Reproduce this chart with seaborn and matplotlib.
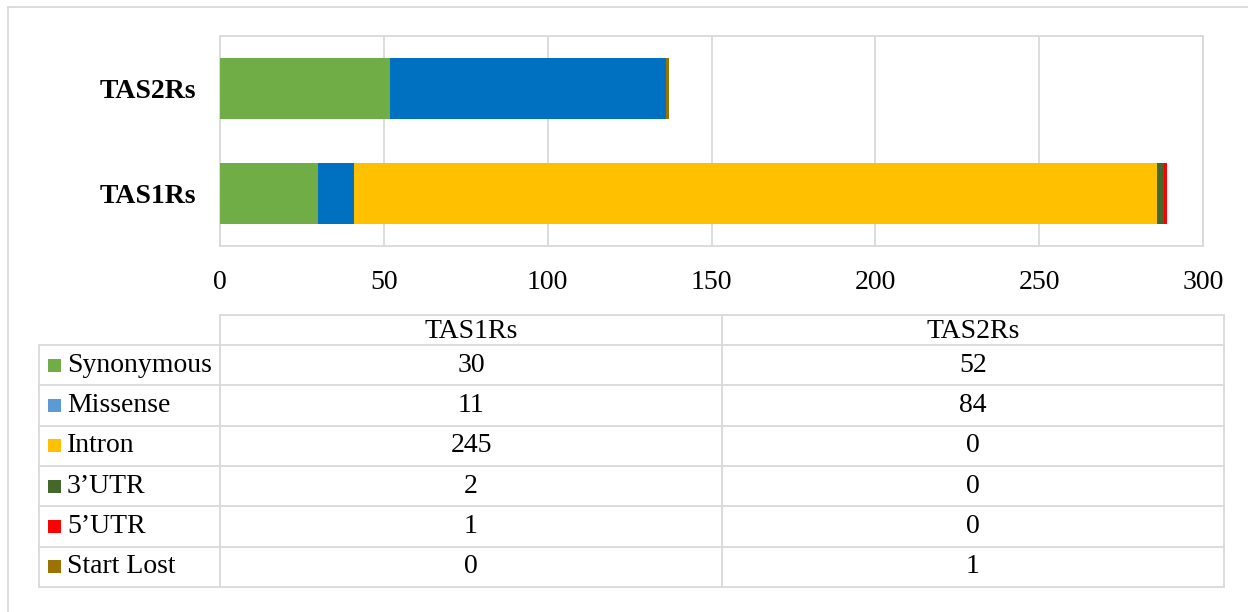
import numpy as np
import pandas as pd
import matplotlib
matplotlib.use('Agg')
import matplotlib.pyplot as plt
import seaborn as sns

# dados
genes = ['TAS2Rs', 'TAS1Rs']
table_cols = ['TAS1Rs', 'TAS2Rs']
tipos = ['Synonymous', 'Missense', 'Intron', '3\u2019UTR', '5\u2019UTR', 'Start Lost']
tas1rs = [30, 11, 245, 2, 1, 0]
tas2rs = [52, 84, 0, 0, 0, 1]
cores_barra = ['#70AD47', '#0070C0', '#FFC000', '#43682B', '#FF0000', '#9C7200']
cores_legenda = ['#70AD47', '#5B9BD5', '#FFC000', '#43682B', '#FF0000', '#9C7200']

df = pd.DataFrame({'TAS1Rs': tas1rs, 'TAS2Rs': tas2rs}, index=tipos)
acum = df.cumsum()

sns.set_style('white')
plt.rcParams['font.family'] = ['Liberation Serif', 'DejaVu Serif']
plt.rcParams['text.color'] = 'black'
plt.rcParams['xtick.color'] = 'black'
plt.rcParams['ytick.color'] = 'black'
cinza = '#D9D9D9'
fs = 20

fig = plt.figure(figsize=(12.48, 6.12), dpi=100)
W, H = 1248, 612
ax = fig.add_axes([220 / W, 1 - 246 / H, (1203 - 220) / W, 210 / H])

# barras empilhadas: desenha do total para o primeiro
for i in range(len(tipos) - 1, -1, -1):
    tipo = tipos[i]
    sns.barplot(x=[acum.loc[tipo, g] for g in genes], y=genes, order=genes,
                orient='h', color=cores_barra[i], width=0.59, ax=ax,
                saturation=1, linewidth=0, zorder=3)

ax.set_xlim(0, 300)
ax.set_ylim(1.5, -0.5)
ax.set_xticks(range(0, 301, 50))
ax.grid(axis='x', color=cinza, linewidth=1.3, zorder=0)
ax.set_axisbelow(True)
for s in ax.spines.values():
    s.set_color(cinza)
    s.set_linewidth(1.3)
ax.tick_params(axis='x', labelsize=fs, pad=17, length=0)
ax.tick_params(axis='y', labelsize=fs, pad=17, length=0)
for lb in ax.get_yticklabels():
    lb.set_fontweight('bold')
ax.set_xlabel('')
ax.set_ylabel('')

# tabela de dados
tab = fig.add_axes([0, 0, 1, 1], zorder=-1)
tab.set_xlim(0, W)
tab.set_ylim(H, 0)
tab.axis('off')

# moldura externa
tab.plot([8, 8], [7, H + 5], color=cinza, lw=1.3)
tab.plot([8, W + 5], [7, 7], color=cinza, lw=1.3)

x0, x1, x2, x3 = 39, 220, 722, 1224
y_head = 315
y_rows = 345
rh = (587 - 345) / len(tipos)
lw = 1.3

# cabeçalho
tab.plot([x1, x3], [y_head, y_head], color=cinza, lw=lw)
for xx in (x1, x2, x3):
    tab.plot([xx, xx], [y_head, y_rows + rh * len(tipos)], color=cinza, lw=lw)
tab.plot([x0, x0], [y_rows, y_rows + rh * len(tipos)], color=cinza, lw=lw)
for k in range(len(tipos) + 1):
    yy = y_rows + k * rh
    tab.plot([x0, x3], [yy, yy], color=cinza, lw=lw)

for j, col in enumerate(table_cols):
    cx = (x1 + x2) / 2 if j == 0 else (x2 + x3) / 2
    tab.text(cx, (y_head + y_rows) / 2 + 1, col, ha='center', va='center', fontsize=fs)

for k, tipo in enumerate(tipos):
    cy = y_rows + (k + 0.5) * rh
    tab.add_patch(plt.Rectangle((48, cy - 6.5), 13, 13, color=cores_legenda[k], lw=0))
    tab.text(67, cy, tipo, ha='left', va='center', fontsize=fs)
    tab.text((x1 + x2) / 2, cy, str(df.loc[tipo, 'TAS1Rs']), ha='center', va='center', fontsize=fs)
    tab.text((x2 + x3) / 2, cy, str(df.loc[tipo, 'TAS2Rs']), ha='center', va='center', fontsize=fs)

fig.savefig('out.png', dpi=100)
